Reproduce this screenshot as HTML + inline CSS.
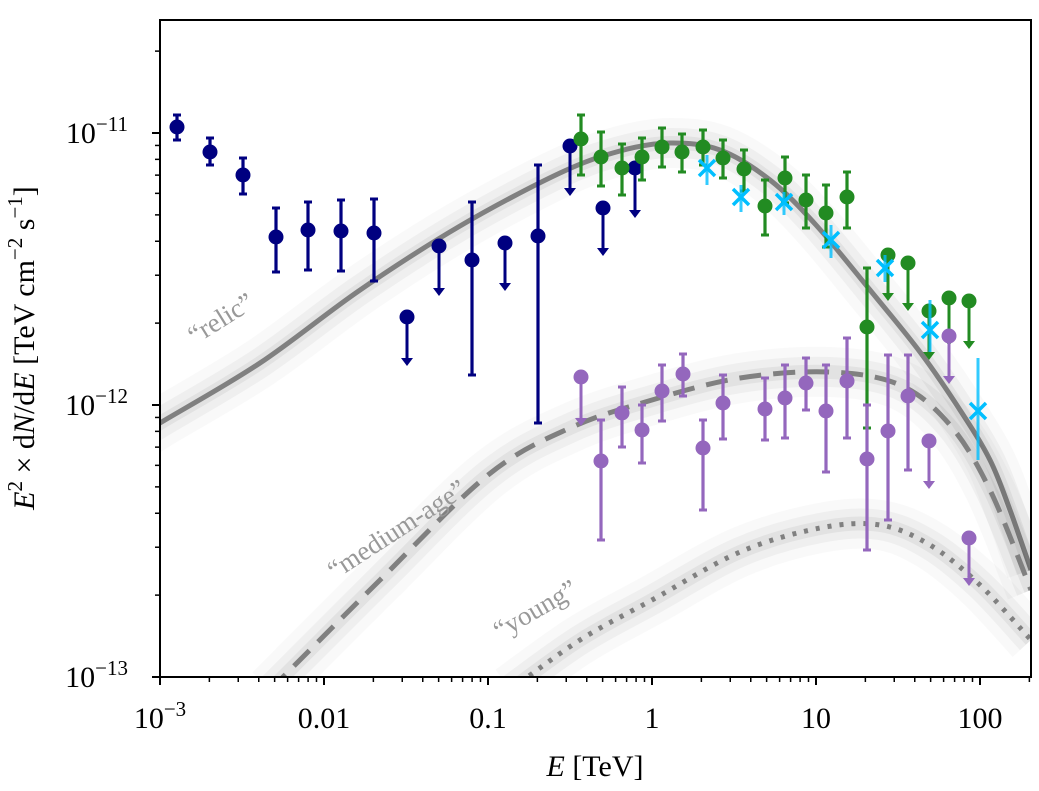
<!DOCTYPE html><html><head><style>body{margin:0;background:#fff}svg{font-family:"Liberation Serif",serif}</style></head><body>
<svg id="s" width="1039" height="786" viewBox="0 0 1039 786" xmlns="http://www.w3.org/2000/svg">
<defs><clipPath id="c"><rect x="160" y="20" width="871" height="657"/></clipPath></defs>
<g id="curves" clip-path="url(#c)"></g>
<g id="pts" clip-path="url(#c)"></g>
<rect x="160" y="20" width="871" height="657" fill="none" stroke="#000" stroke-width="2"/>
<g id="ticks" stroke="#000"></g>
<g font-size="30" fill="#000">
<text x="128" y="143" text-anchor="end">10<tspan dy="-12" font-size="21">−11</tspan></text>
<text x="128" y="415" text-anchor="end">10<tspan dy="-12" font-size="21">−12</tspan></text>
<text x="128" y="687" text-anchor="end">10<tspan dy="-12" font-size="21">−13</tspan></text>
<text x="160" y="728" text-anchor="middle">10<tspan dy="-12" font-size="21">−3</tspan></text>
<text x="324" y="728" text-anchor="middle">0.01</text>
<text x="488" y="728" text-anchor="middle">0.1</text>
<text x="652" y="728" text-anchor="middle">1</text>
<text x="816" y="728" text-anchor="middle">10</text>
<text x="980" y="728" text-anchor="middle">100</text>
<text x="595" y="776" text-anchor="middle"><tspan font-style="italic">E</tspan> [TeV]</text>
<text transform="translate(34,348) rotate(-90)" text-anchor="middle"><tspan font-style="italic">E</tspan><tspan dy="-12" font-size="21">2</tspan><tspan dy="12"> × d</tspan><tspan font-style="italic">N</tspan>/d<tspan font-style="italic">E</tspan> [TeV cm<tspan dy="-12" font-size="21">−2</tspan><tspan dy="12"> s</tspan><tspan dy="-12" font-size="21">−1</tspan><tspan dy="12">]</tspan></text>
</g>
<g font-size="27" fill="#999">
<text transform="translate(195,345) rotate(-32)">“relic”</text>
<text transform="translate(335,580) rotate(-33)">“medium-age”</text>
<text transform="translate(500,640) rotate(-30)">“young”</text>
</g>
</svg>
<script>
const NS="http://www.w3.org/2000/svg";
function el(p,t,a){const e=document.createElementNS(NS,t);for(const k in a)e.setAttribute(k,a[k]);p.appendChild(e);return e}
function cr(P){let d="M"+P[0];for(let i=0;i<P.length-1;i++){const p0=P[i-1]||P[i],p1=P[i],p2=P[i+1],p3=P[i+2]||p2;
d+=" C"+(p1[0]+(p2[0]-p0[0])/6)+","+(p1[1]+(p2[1]-p0[1])/6)+" "+(p2[0]-(p3[0]-p1[0])/6)+","+(p2[1]-(p3[1]-p1[1])/6)+" "+p2[0]+","+p2[1]}return d}
const C=document.getElementById("curves");
const relic=[[140,436],[160,423],[260,363],[360,290],[460,226],[560,173],[620,151],[670,143],[720,150],[770,180],[816,225],[870,290],[920,352],[960,410],[990,460],[1010,510],[1031,570]];
const med=[[270,690],[380,580],[488,475],[570,428],[652,400],[740,378],[830,372],[900,385],[950,425],[990,490],[1031,590]];
const yg=[[510,690],[580,640],[652,600],[740,552],[820,528],[880,525],[930,545],[980,585],[1031,640]];
[[relic,""],[med,"22 12"],[yg,"4 8"]].forEach(([P,da])=>{const d=cr(P);
el(C,"path",{d,fill:"none",stroke:"#000",opacity:0.025,"stroke-width":50});
el(C,"path",{d,fill:"none",stroke:"#000",opacity:0.04,"stroke-width":30});
el(C,"path",{d,fill:"none",stroke:"#000",opacity:0.05,"stroke-width":14});
el(C,"path",{d,fill:"none",stroke:"#808080","stroke-width":5,"stroke-dasharray":da});});
const G=document.getElementById("pts");
function pt(col,x,y,a,b,ul){ if(ul){el(G,"line",{x1:x,y1:y,x2:x,y2:a-6,stroke:col,"stroke-width":3});el(G,"path",{d:`M${x-6},${a-8} L${x+6},${a-8} L${x},${a}Z`,fill:col});}
 else{el(G,"line",{x1:x,y1:a,x2:x,y2:b,stroke:col,"stroke-width":3.2});el(G,"line",{x1:x-4,y1:a,x2:x+4,y2:a,stroke:col,"stroke-width":3});el(G,"line",{x1:x-4,y1:b,x2:x+4,y2:b,stroke:col,"stroke-width":3});}
 el(G,"circle",{cx:x,cy:y,r:7.5,fill:col});}
const nv="#000080";
[[177,127,115,140],[210,152,138,165],[243,175,158,194],[276,237,208,272],[308,230,202,270],[341,231,200,271],[374,233,199,281],[407,317,366,0,1],[439,246,296,0,1],[472,260,202,375],[505,243,291,0,1],[538,236,165,423],[570,146,196,0,1],[603,208,256,0,1],[635,168,218,0,1]].forEach(p=>pt(nv,...p));
const gr="#228b22";
[[581,139,115,175],[601,157,132,186],[622,168,144,195],[642,157,138,180],[662,147,128,167],[682,152,134,172],[703,147,130,165],[723,158,140,178],[744,169,150,191],[765,206,180,235],[785,178,157,203],[806,200,175,228],[826,213,185,247],[847,197,172,228],[867,327,268,428],[888,255,301,0,1],[908,263,311,0,1],[929,311,360,0,1],[949,298,346,0,1],[969,301,349,0,1]].forEach(p=>pt(gr,...p));
const cy="#00bfff";
[[707,168,155,185],[741,197,185,212],[784,202,192,215],[831,240,225,258],[885,268,255,282],[930,330,300,352],[978,411,358,460]].forEach(([x,y,a,b])=>{
el(G,"line",{x1:x,y1:a,x2:x,y2:b,stroke:cy,"stroke-width":3,opacity:0.8});
el(G,"path",{d:`M${x-8},${y-8}L${x+8},${y+8}M${x-8},${y+8}L${x+8},${y-8}`,stroke:cy,"stroke-width":3.5});});
const pu="#9467bd";
[[581,377,426,0,1],[601,461,420,540],[622,413,387,447],[642,430,405,463],[662,391,365,421],[683,374,354,396],[703,448,420,510],[723,403,375,439],[765,409,378,440],[785,398,365,438],[806,383,358,410],[826,411,365,472],[847,381,338,438],[867,459,405,550],[888,431,355,520],[908,396,355,470],[929,441,489,0,1],[949,336,384,0,1],[969,538,586,0,1]].forEach(p=>pt(pu,...p));
const T=document.getElementById("ticks");
for(let d=0;d<4;d++)for(let k=1;k<10;k++){const y=677-272*d-272*Math.log10(k);if(y<20)break;
el(T,"line",{x1:k==1?152:155,y1:y,x2:160,y2:y,"stroke-width":k==1?2:1.5});}
for(let d=0;d<6;d++)for(let k=1;k<10;k++){const x=160+164*d+164*Math.log10(k);if(x>1031)break;
el(T,"line",{x1:x,y1:677,x2:x,y2:k==1?685:682,"stroke-width":k==1?2:1.5});}
</script>
</body></html>
